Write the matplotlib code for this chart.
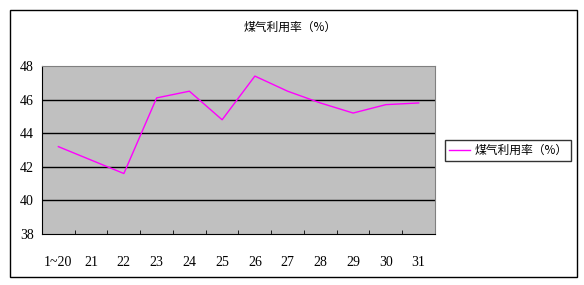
import matplotlib
matplotlib.use("Agg")
import matplotlib.pyplot as plt
from matplotlib.patches import Rectangle
import numpy as np

# data
days = ["1~20", "21", "22", "23", "24", "25", "26", "27", "28", "29", "30", "31"]
gas_rate = [43.2, 42.4, 41.6, 46.1, 46.5, 44.8, 47.4, 46.5, 45.8, 45.2, 45.7, 45.8]
y_ticks = [38, 40, 42, 44, 46, 48]
title_text = "煤气利用率（%）"

cjk = ["Noto Sans CJK SC", "DejaVu Sans"]
num_font = ["Liberation Serif", "DejaVu Serif"]

W, H = 584, 285
fig = plt.figure(figsize=(W / 100, H / 100), dpi=100)
fig.patch.set_facecolor("white")

# outer chart border
fig.patches.append(Rectangle((10 / W, 1 - 277 / H), 567 / W, 267 / H,
                             transform=fig.transFigure, fill=False,
                             edgecolor="black", linewidth=1.0))

ax = fig.add_axes([42 / W, 1 - 234 / H, (435 - 42) / W, (234 - 66) / H])
ax.set_facecolor("#c0c0c0")

x = np.arange(len(days))
line, = ax.plot(x, gas_rate, color="#ff00ff", linewidth=1.0, label=title_text)

ax.set_xlim(-0.5, len(days) - 0.5)
ax.set_ylim(38, 48)
ax.set_yticks(y_ticks)
ax.set_yticklabels([str(v) for v in y_ticks], family=num_font, fontsize=10)
for v in y_ticks[1:-1]:
    ax.axhline(v, color="black", linewidth=1.0, zorder=1)

# labels at category centres, tick marks at boundaries
ax.set_xticks(x)
ax.set_xticklabels(days, family=num_font, fontsize=10)
ax.tick_params(axis="x", which="major", length=0, pad=16)
ax.set_xticks(np.arange(0.5, len(days) - 0.5, 1), minor=True)
ax.tick_params(axis="x", which="minor", direction="in", length=3, color="black")
ax.tick_params(axis="y", length=0, pad=6)

for side in ["top", "right"]:
    ax.spines[side].set_color("#808080")
for side in ["left", "bottom"]:
    ax.spines[side].set_color("black")

fig.text(290 / W, 1 - 27 / H, title_text, ha="center", va="center",
         family=cjk, fontsize=8.5)

leg = fig.legend(handles=[line], labels=[title_text], loc="center left",
                 bbox_to_anchor=(445 / W, 1 - 150.5 / H),
                 prop={"family": cjk, "size": 8.5}, frameon=True,
                 fancybox=False, edgecolor="black", handlelength=1.8,
                 borderpad=0.3, handletextpad=0.4, borderaxespad=0)
leg.get_frame().set_linewidth(1.0)

fig.savefig("out.png", dpi=100)
